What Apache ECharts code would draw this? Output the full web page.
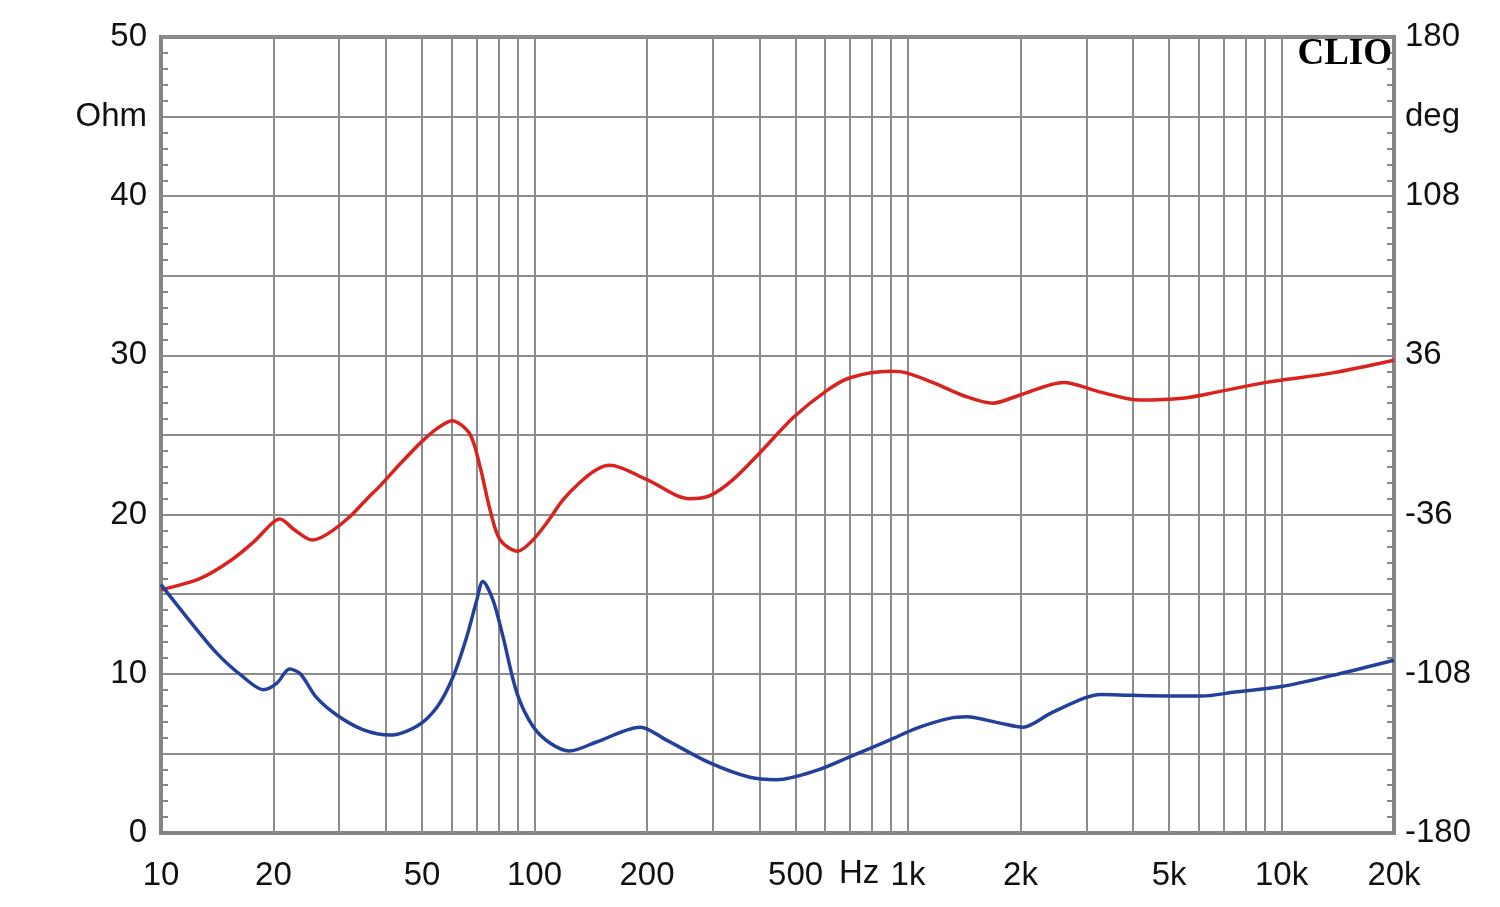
<!DOCTYPE html>
<html>
<head>
<meta charset="utf-8">
<script src="https://cdn.jsdelivr.net/npm/echarts@6/dist/echarts.min.js"></script>
<style>html,body{margin:0;padding:0;background:#fff;}#c{width:1500px;height:907px;}</style>
</head>
<body>
<div id="c"></div>
<script>
// Impedance magnitude (Ohm, left axis) - blue
const blueFreq = [10, 11.5, 14.1, 16.6, 18.8, 20.4, 22.1, 23.6, 26.1, 29.6, 34.7, 41, 48.4, 54.8, 60.5, 65.8, 70, 72.7, 77.5, 82.4, 89.7, 99, 110, 124, 146, 192, 225, 295, 377, 446, 572, 700, 895, 1060, 1290, 1434, 1760, 2030, 2400, 2950, 3280, 4000, 6100, 7500, 10000, 13700, 20000];
const blueOhm  = [15.6, 13.8, 11.3, 9.8, 9.0, 9.4, 10.3, 10.0, 8.5, 7.4, 6.5, 6.15, 6.7, 7.9, 9.8, 12.3, 14.6, 15.8, 14.6, 12.3, 8.8, 6.7, 5.65, 5.15, 5.7, 6.65, 5.85, 4.4, 3.5, 3.35, 3.95, 4.8, 5.85, 6.6, 7.2, 7.3, 6.9, 6.65, 7.5, 8.45, 8.7, 8.65, 8.6, 8.85, 9.2, 9.9, 10.85];
// Phase (deg, right axis) - red
const redFreq = [10, 12.7, 15.3, 17.8, 19.8, 20.8, 22.8, 25.4, 28, 32, 36, 38.6, 43.7, 49.9, 54.8, 60.1, 67, 71.5, 76, 80.9, 90.2, 99, 108, 119, 132, 146, 159, 200, 260, 295, 340, 402, 493, 607, 700, 895, 990, 1163, 1434, 1686, 1988, 2610, 3280, 4170, 5430, 6700, 9100, 13700, 20000];
const redDeg  = [-70, -65, -57, -48, -40, -38, -43, -47.5, -44.6, -37, -28, -23, -13, -3, 2.9, 6.5, 0.7, -14.4, -33.8, -47.5, -52.6, -47.5, -39.6, -29.5, -21.6, -15.8, -13.7, -20.2, -28.8, -27.4, -20.2, -7.9, 7.9, 20.2, 25.9, 28.8, 28.1, 23.8, 17.3, 14.4, 18, 23.8, 19.4, 15.8, 16.6, 19.4, 23.8, 28.1, 33.8];
// Frequency grid lines and frequency tick labels
const gridFreqs = [20, 30, 40, 50, 60, 70, 80, 90, 100, 200, 300, 400, 500, 600, 700, 800, 900, 1000, 2000, 3000, 4000, 5000, 6000, 7000, 8000, 9000, 10000];
const xTickValues = [10, 20, 50, 100, 200, 500, 1000, 2000, 5000, 10000, 20000];
const xTickLabels = ['10', '20', '50', '100', '200', '500', '1k', '2k', '5k', '10k', '20k'];
const unitLeft = 'Ohm', unitRight = 'deg', unitX = 'Hz';

const FONT = '"Liberation Sans", Arial, sans-serif';
const FS = 33;
const GRIDC = '#8c8c8c';
const chart = echarts.init(document.getElementById('c'), null, {renderer: 'canvas'});
const pair = (xs, ys) => xs.map((x, i) => [x, ys[i]]);

chart.setOption({
  animation: false,
  backgroundColor: '#fff',
  grid: {left: 161, right: 106, top: 37, bottom: 74, show: true, borderColor: '#868686', borderWidth: 4, backgroundColor: '#fff'},
  xAxis: {
    type: 'log', logBase: 10, min: 10, max: 20000,
    axisLine: {show: true, lineStyle: {color: '#868686', width: 4}},
    axisTick: {show: false}, axisLabel: {show: false}, splitLine: {show: false}
  },
  yAxis: [
    {
      type: 'value', min: 0, max: 50, interval: 5, position: 'left',
      axisLine: {show: true, lineStyle: {color: '#868686', width: 4}},
      axisTick: {show: false, inside: true, length: 7},
      minorTick: {show: true, splitNumber: 5, length: 7, lineStyle: {color: '#868686', width: 2}},
      splitLine: {show: true, lineStyle: {color: GRIDC, width: 2}},
      axisLabel: {margin: 14, fontSize: FS, color: '#111', fontFamily: FONT,
        formatter: v => v === 45 ? unitLeft : (v % 10 === 0 ? String(v) : '')}
    },
    {
      type: 'value', min: -180, max: 180, interval: 36, position: 'right',
      axisLine: {show: true, lineStyle: {color: '#868686', width: 4}},
      axisTick: {show: false, inside: true, length: 7},
      minorTick: {show: true, splitNumber: 5, length: 7, lineStyle: {color: '#868686', width: 2}},
      splitLine: {show: false},
      axisLabel: {margin: 11, fontSize: FS, color: '#111', fontFamily: FONT,
        formatter: v => v === 144 ? unitRight : ((v + 180) % 72 === 0 ? String(v) : '')}
    }
  ],
  series: [
    {
      type: 'line', name: 'grid', data: [], yAxisIndex: 0,
      markLine: {
        silent: true, symbol: 'none', z: 1, animation: false,
        lineStyle: {color: GRIDC, width: 2, type: 'solid'},
        label: {show: false},
        data: gridFreqs.map(f => ({xAxis: f}))
      }
    },
    {
      type: 'line', name: 'ticks', data: [], yAxisIndex: 0,
      markLine: {
        silent: true, symbol: 'none', z: 1, animation: false,
        lineStyle: {color: 'rgba(255,255,255,0)', width: 1, type: 'solid'},
        label: {show: true, position: 'start', distance: 26, fontSize: FS, color: '#111', fontFamily: FONT, formatter: '{b}'},
        data: xTickValues.map((f, i) => ({xAxis: f, name: xTickLabels[i]}))
      }
    },
    {
      type: 'line', name: 'Phase', yAxisIndex: 1, data: pair(redFreq, redDeg),
      smooth: 0.3, showSymbol: false, z: 3,
      lineStyle: {color: '#d8231f', width: 3.5}
    },
    {
      type: 'line', name: 'Impedance', yAxisIndex: 0, data: pair(blueFreq, blueOhm),
      smooth: 0.3, showSymbol: false, z: 3,
      lineStyle: {color: '#23419b', width: 3.5}
    }
  ],
  graphic: [
    {type: 'text', right: 108, top: 36, z: 10,
      style: {text: 'CLIO', font: 'bold 37px "Liberation Serif", "Times New Roman", serif', fill: '#000'}},
    {type: 'text', left: 839, top: 857, z: 10,
      style: {text: unitX, font: FS + 'px ' + FONT, fill: '#111'}}
  ]
});
</script>
</body>
</html>
